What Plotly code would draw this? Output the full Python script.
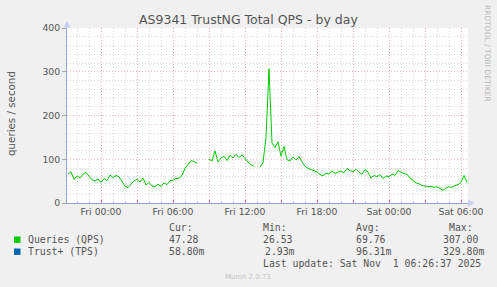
import plotly.graph_objects as go
import pandas as pd

# ---------------- data ----------------
series_start = "2025-10-30 21:15"   # first sample (Thu 21:15)
sample_step = "15min"
queries_qps = [
    67, 71, 54, 62, 57, 66, 70, 61, 53, 50, 55,
    47, 56, 51, 64, 58, 63, 60, 49, 38, 35, 44, 51,
    54, 48, 57, 41, 47, 39, 37, 43, 38, 46, 42, 51,
    52, 56, 57, 63, 79, 87, 97, 95, 91, None, None, None,
    100, 96, 119, 94, 103, 107, 97, 109, 103, 111, 104, 110,
    102, 93, 88, 84, None, 82, 92, 150, 307, 137, 127, 140,
    107, 129, 99, 96, 105, 98, 106, 94, 84, 79, 77, 74,
    71, 65, 62, 68, 66, 73, 68, 71, 73, 69, 79, 74,
    72, 77, 70, 66, 76, 71, 57, 63, 60, 65, 56, 62,
    60, 66, 63, 74, 71, 67, 66, 57, 52, 46, 44, 40,
    39, 37, 38, 36, 37, 32, 29, 34, 37, 36, 40, 42,
    47, 63, 47,
]
legend_names = ["Queries (QPS)", "Trust+ (TPS)"]
legend_colors = ["#00CC00", "#0066B3"]
stat_headers = ["Cur:", "Min:", "Avg:", "Max:"]
stats_qps = ["47.28", "26.53", "69.76", "307.00"]
stats_tps = ["58.80m", "2.93m", "96.31m", "329.80m"]
last_update = "Last update: Sat Nov  1 06:26:37 2025"
title_text = "AS9341 TrustNG Total QPS - by day"
y_title = "queries / second"
x_range = ["2025-10-30 21:10", "2025-11-01 06:35"]
y_range = [0, 400]
major_ticks = pd.date_range("2025-10-31 00:00", "2025-11-01 06:00", freq="3h")
tick_labels = [t.strftime("%a %H:%M") if t.hour % 6 == 0 else "" for t in major_ticks]

times = pd.date_range(series_start, periods=len(queries_qps), freq=sample_step)

# ---------------- layout helpers ----------------
W, H = 497, 287
L, R, T, B = 67, 29, 28, 84
PW, PH = W - L - R, H - T - B


def px(x):
    return (x - L) / PW


def py(y):
    return (T + PH - y) / PH


TEXT = "#555555"
MONO = "DejaVu Sans Mono"
SANS = "DejaVu Sans"
RED_GRID = "rgba(235,150,150,0.6)"
GREY_GRID = "rgba(200,200,200,0.65)"
AXIS_BLUE = "#93A5DA"

fig = go.Figure()
fig.add_trace(go.Scatter(
    x=times, y=queries_qps, mode="lines",
    line=dict(color=legend_colors[0], width=1),
    connectgaps=False, showlegend=False, hoverinfo="skip",
))

fig.update_layout(
    width=W, height=H,
    margin=dict(l=L, r=R, t=T, b=B, pad=0),
    paper_bgcolor="#F0F0F0", plot_bgcolor="#FFFFFF",
    showlegend=False,
    font=dict(family=SANS, size=9.3, color=TEXT),
    xaxis=dict(
        type="date", range=x_range,
        tickmode="array", tickvals=major_ticks, ticktext=tick_labels,
        showgrid=True, gridcolor=RED_GRID, griddash="1px,2px", gridwidth=1,
        ticks="inside", ticklen=3, tickcolor="#E07070",
        showline=True, linecolor=AXIS_BLUE, linewidth=1,
        tickfont=dict(family=SANS, size=9.3, color=TEXT),
        zeroline=False, fixedrange=True,
        minor=dict(tickmode="linear", tick0="2025-10-31 00:00", dtick=3600000,
                   showgrid=True, gridcolor=GREY_GRID, griddash="1px,2px",
                   ticks="inside", ticklen=2, tickcolor="#C4C4C4"),
    ),
    yaxis=dict(
        range=y_range, tickmode="linear", tick0=0, dtick=100,
        showgrid=True, gridcolor=RED_GRID, griddash="1px,2px", gridwidth=1,
        ticks="outside", ticklen=4, tickcolor="#AAAAAA",
        showline=True, linecolor=AXIS_BLUE, linewidth=1,
        tickfont=dict(family=SANS, size=9.3, color=TEXT),
        zeroline=False, fixedrange=True,
        minor=dict(tickmode="linear", tick0=0, dtick=20,
                   showgrid=True, gridcolor=GREY_GRID, griddash="1px,2px"),
    ),
)

ann = []
ann.append(dict(text=title_text, x=px(248.5), y=py(19.5), xanchor="center", yanchor="middle",
                font=dict(family=SANS, size=12.5, color=TEXT)))
ann.append(dict(text=y_title, x=px(11), y=py(114), xanchor="center", yanchor="middle",
                textangle=-90, font=dict(family=SANS, size=10.3, color=TEXT)))
ann.append(dict(text="RRDTOOL / TOBI OETIKER", x=px(487.5), y=py(53.5), xanchor="center",
                yanchor="middle", textangle=90, font=dict(family=SANS, size=7.5, color="#B8B8B8")))
ann.append(dict(text="Munin 2.0.73", x=px(247.5), y=py(276.5), xanchor="center", yanchor="middle",
                font=dict(family=SANS, size=7, color="#C4C4C4")))

hdr_x = [167, 261, 354, 447]
for h, x in zip(stat_headers, hdr_x):
    ann.append(dict(text=h, x=px(x), y=py(227.7), xanchor="left", yanchor="middle",
                    font=dict(family=MONO, size=9.8, color=TEXT)))
rows_y = [239.7, 251.7]
row_vals = [stats_qps, stats_tps]
val_x = [[167, 261, 354, 441], [167, 262.5, 354, 441]]
for name, ry, vals, xs in zip(legend_names, rows_y, row_vals, val_x):
    ann.append(dict(text=name, x=px(26), y=py(ry), xanchor="left", yanchor="middle",
                    font=dict(family=MONO, size=9.8, color=TEXT)))
    for v, x in zip(vals, xs):
        ann.append(dict(text=v, x=px(x), y=py(ry), xanchor="left", yanchor="middle",
                        font=dict(family=MONO, size=9.8, color=TEXT)))
ann.append(dict(text=last_update, x=px(261), y=py(263.3), xanchor="left", yanchor="middle",
                font=dict(family=MONO, size=9.8, color=TEXT)))
for a in ann:
    a.update(xref="paper", yref="paper", showarrow=False)
fig.update_layout(annotations=ann)

shapes = []
for c, ry in zip(legend_colors, rows_y):
    shapes.append(dict(type="rect", xref="paper", yref="paper",
                       x0=px(14), x1=px(20.5), y0=py(ry + 3.2), y1=py(ry - 3.2),
                       fillcolor=c, line=dict(width=0)))
# axis arrows
shapes.append(dict(type="line", xref="paper", yref="paper", x0=px(67), x1=px(67),
                   y0=py(28), y1=py(23), line=dict(color=AXIS_BLUE, width=1)))
shapes.append(dict(type="path", xref="paper", yref="paper",
                   path=f"M {px(63.5)} {py(27.5)} L {px(70.5)} {py(27.5)} L {px(67)} {py(21)} Z",
                   fillcolor="#C5CDF0", line=dict(width=0)))
shapes.append(dict(type="path", xref="paper", yref="paper",
                   path=f"M {px(468)} {py(199.5)} L {px(468)} {py(206.5)} L {px(474.5)} {py(203)} Z",
                   fillcolor="#C5CDF0", line=dict(width=0)))
fig.update_layout(shapes=shapes)

fig.write_html("out.html")
